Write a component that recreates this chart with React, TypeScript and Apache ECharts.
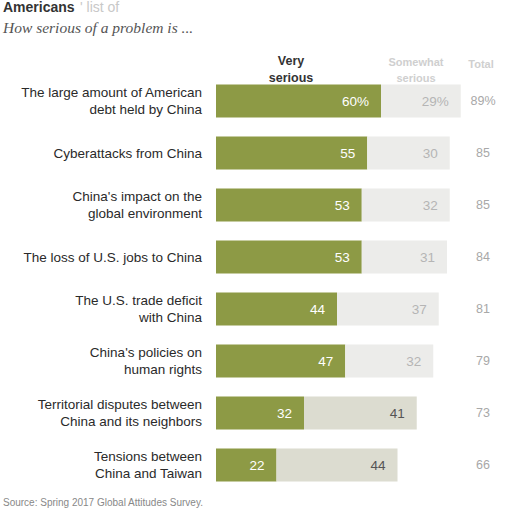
import React, { useEffect, useRef } from "react";
import * as echarts from "echarts";

const categories = [
  "The large amount of American\ndebt held by China",
  "Cyberattacks from China",
  "China's impact on the\nglobal environment",
  "The loss of U.S. jobs to China",
  "The U.S. trade deficit\nwith China",
  "China's policies on\nhuman rights",
  "Territorial disputes between\nChina and its neighbors",
  "Tensions between\nChina and Taiwan",
];
const verySerious = [60, 55, 53, 53, 44, 47, 32, 22];
const somewhatSerious = [29, 30, 32, 31, 37, 32, 41, 44];
const totals = [89, 85, 85, 84, 81, 79, 73, 66];

export default function App() {
  const ref = useRef<HTMLDivElement>(null);
  useEffect(() => {
    const chart = echarts.init(ref.current!, null, { renderer: "svg" });
    const sans = "Liberation Sans";
    chart.setOption({
      animation: false,
      backgroundColor: "#ffffff",
      grid: { left: 216, right: 21, top: 75, bottom: 21, containLabel: false },
      xAxis: {
        type: "value",
        min: 0,
        max: 100,
        show: false,
      },
      yAxis: [
        {
          type: "category",
          inverse: true,
          data: categories,
          axisLine: { show: false },
          axisTick: { show: false },
          axisLabel: {
            margin: 14,
            fontFamily: sans,
            fontSize: 13.5,
            lineHeight: 17,
            color: "#2a2a2a",
            align: "right",
          },
        },
        {
          type: "category",
          inverse: true,
          position: "right",
          data: totals.map((t, i) => (i === 0 ? t + "%" : String(t))),
          axisLine: { show: false },
          axisTick: { show: false },
          axisLabel: {
            margin: -8,
            fontFamily: sans,
            fontSize: 12.5,
            color: "#a8a8a8",
            align: "center",
          },
        },
      ],
      series: [
        {
          type: "bar",
          stack: "s",
          barWidth: 33,
          data: verySerious,
          itemStyle: { color: "#8d9a45" },
          label: {
            show: true,
            position: "insideRight",
            distance: 12,
            color: "#ffffff",
            fontFamily: sans,
            fontSize: 13.5,
            formatter: (p: any) => (p.dataIndex === 0 ? p.value + "%" : String(p.value)),
          },
        },
        {
          type: "bar",
          stack: "s",
          barWidth: 33,
          data: somewhatSerious.map((v, i) => ({
            value: v,
            itemStyle: { color: i >= 6 ? "#dcdcd0" : "#ececea" },
            label: { color: i >= 6 ? "#555555" : "#b5b5b5" },
          })),
          label: {
            show: true,
            position: "insideRight",
            distance: 12,
            fontFamily: sans,
            fontSize: 13.5,
            formatter: (p: any) => (p.dataIndex === 0 ? p.value + "%" : String(p.value)),
          },
        },
      ],
      graphic: [
        {
          type: "text",
          left: 3,
          top: 0,
          style: {
            text: "Americans",
            fontFamily: sans,
            fontWeight: "bold",
            fontSize: 14,
            fill: "#333333",
          },
        },
        {
          type: "text",
          left: 80,
          top: 0,
          style: {
            text: "' list of",
            fontFamily: sans,
            fontSize: 14,
            fill: "#c8c8c8",
          },
        },
        {
          type: "text",
          left: 3,
          top: 19,
          style: {
            text: "How serious of a problem is ...",
            fontFamily: "Liberation Serif",
            fontStyle: "italic",
            fontSize: 15.5,
            fill: "#555555",
          },
        },
        {
          type: "text",
          x: 291,
          y: 52,
          style: {
            text: "Very\nserious",
            fontFamily: sans,
            fontWeight: "bold",
            fontSize: 12.5,
            lineHeight: 17,
            fill: "#333333",
            align: "center",
            verticalAlign: "top",
          },
        },
        {
          type: "text",
          x: 416,
          y: 54,
          style: {
            text: "Somewhat\nserious",
            fontFamily: sans,
            fontWeight: "bold",
            fontSize: 11,
            lineHeight: 16,
            fill: "#cfcfcf",
            align: "center",
            verticalAlign: "top",
          },
        },
        {
          type: "text",
          x: 481,
          y: 58,
          style: {
            text: "Total",
            fontFamily: sans,
            fontWeight: "bold",
            fontSize: 11,
            fill: "#cfcfcf",
            align: "center",
            verticalAlign: "top",
          },
        },
        {
          type: "text",
          left: 3,
          top: 497,
          style: {
            text: "Source: Spring 2017 Global Attitudes Survey.",
            fontFamily: sans,
            fontSize: 10,
            fill: "#888888",
          },
        },
      ],
    });
    return () => chart.dispose();
  }, []);
  return (
    <div
      ref={ref}
      style={{ position: "fixed", left: 0, top: 0, width: 512, height: 512 }}
    />
  );
}
